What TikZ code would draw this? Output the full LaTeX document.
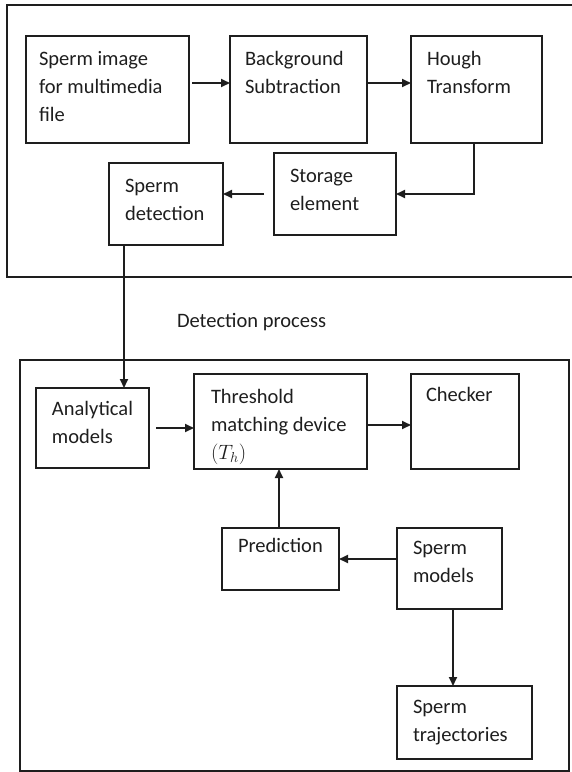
\documentclass[tikz,border=0pt]{standalone}
\usepackage{fontspec}
\setmainfont{Carlito}
\usetikzlibrary{arrows.meta}
\definecolor{ink}{HTML}{1E1E1E}
\begin{document}
\begin{tikzpicture}[x=1pt,y=-1pt,
  every node/.style={inner sep=0pt, outer sep=0pt},
  block/.style={draw=ink, line width=1.7pt, anchor=north west},
  frame/.style={draw=ink, line width=1.7pt},
  txt/.style={anchor=base west, align=left, text=ink,
    font=\fontsize{20.5}{28}\selectfont},
  arr/.style={draw=ink, line width=1.8pt, -{Triangle[length=9pt,width=8pt]}}]
\useasboundingbox (0,0) rectangle (572,772);

% outer frames
\draw[frame] (7,5) rectangle (580,277);
\draw[frame] (20,360) rectangle (569,771);

% blocks: north-west corner, width, height
\node[block, minimum width=163pt, minimum height=107pt] (b1) at (26,36) {};
\node[block, minimum width=137pt, minimum height=107pt] (b2) at (230,36) {};
\node[block, minimum width=131pt, minimum height=107pt] (b3) at (411,36) {};
\node[block, minimum width=122pt, minimum height=82pt] (st) at (274,153) {};
\node[block, minimum width=114pt, minimum height=82pt] (sd) at (109,163) {};
\node[block, minimum width=113pt, minimum height=80pt] (an) at (36,388) {};
\node[block, minimum width=173pt, minimum height=95pt] (th) at (194,374) {};
\node[block, minimum width=108pt, minimum height=95pt] (ck) at (411,374) {};
\node[block, minimum width=117pt, minimum height=62pt] (pr) at (222,528) {};
\node[block, minimum width=105pt, minimum height=81pt] (sm) at (397,528) {};
\node[block, minimum width=135pt, minimum height=73pt] (tr) at (397,686) {};

% block texts, placed at the baseline of their last line
\node[txt] (b1t) at (39,121) {Sperm image\\for multimedia\\file};
\node[txt] (b2t) at (245,93) {Background\\Subtraction};
\node[txt] (b3t) at (427,93) {Hough\\Transform};
\node[txt] (stt) at (290,210) {Storage\\element};
\node[txt] (sdt) at (125,220) {Sperm\\detection};
\node[txt] (ant) at (52,443) {Analytical\\models};
\node[txt] (tht) at (211,459) {Threshold\\matching device\\$(T_h)$};
\node[txt] (ckt) at (426,401) {Checker};
\node[txt] (prt) at (238,552) {Prediction};
\node[txt] (smt) at (413,582) {Sperm\\models};
\node[txt] (trt) at (413,741) {Sperm\\trajectories};
\node[txt] (lbl) at (177,327) {Detection process};

% connectors
\draw[arr] ([xshift=3pt,yshift=6.5pt]b1.east) -- ([yshift=6.5pt]b2.west);
\draw[arr] ([yshift=6.5pt]b2.east) -- ([yshift=6.5pt]b3.west);
\draw[arr] ([xshift=-2.5pt]b3.south) |- (st.east);
\draw[arr] ([xshift=-10pt]st.west) -- (sd.east |- st.west);
\draw[arr] ([xshift=-42pt]sd.south) -- ([xshift=-42pt]sd.south |- an.north);
\draw[arr] ([xshift=7pt]an.east) -- (th.west |- an.east);
\draw[arr] ([yshift=-3.5pt]th.east) -- ([yshift=-3.5pt]ck.west);
\draw[arr] ([xshift=-1.5pt]pr.north) -- ([xshift=-1.5pt]pr.north |- th.south);
\draw[arr] (sm.west |- pr.east) -- (pr.east);
\draw[arr] ([xshift=3.5pt]sm.south) -- ([xshift=3.5pt]sm.south |- tr.north);
\end{tikzpicture}
\end{document}
